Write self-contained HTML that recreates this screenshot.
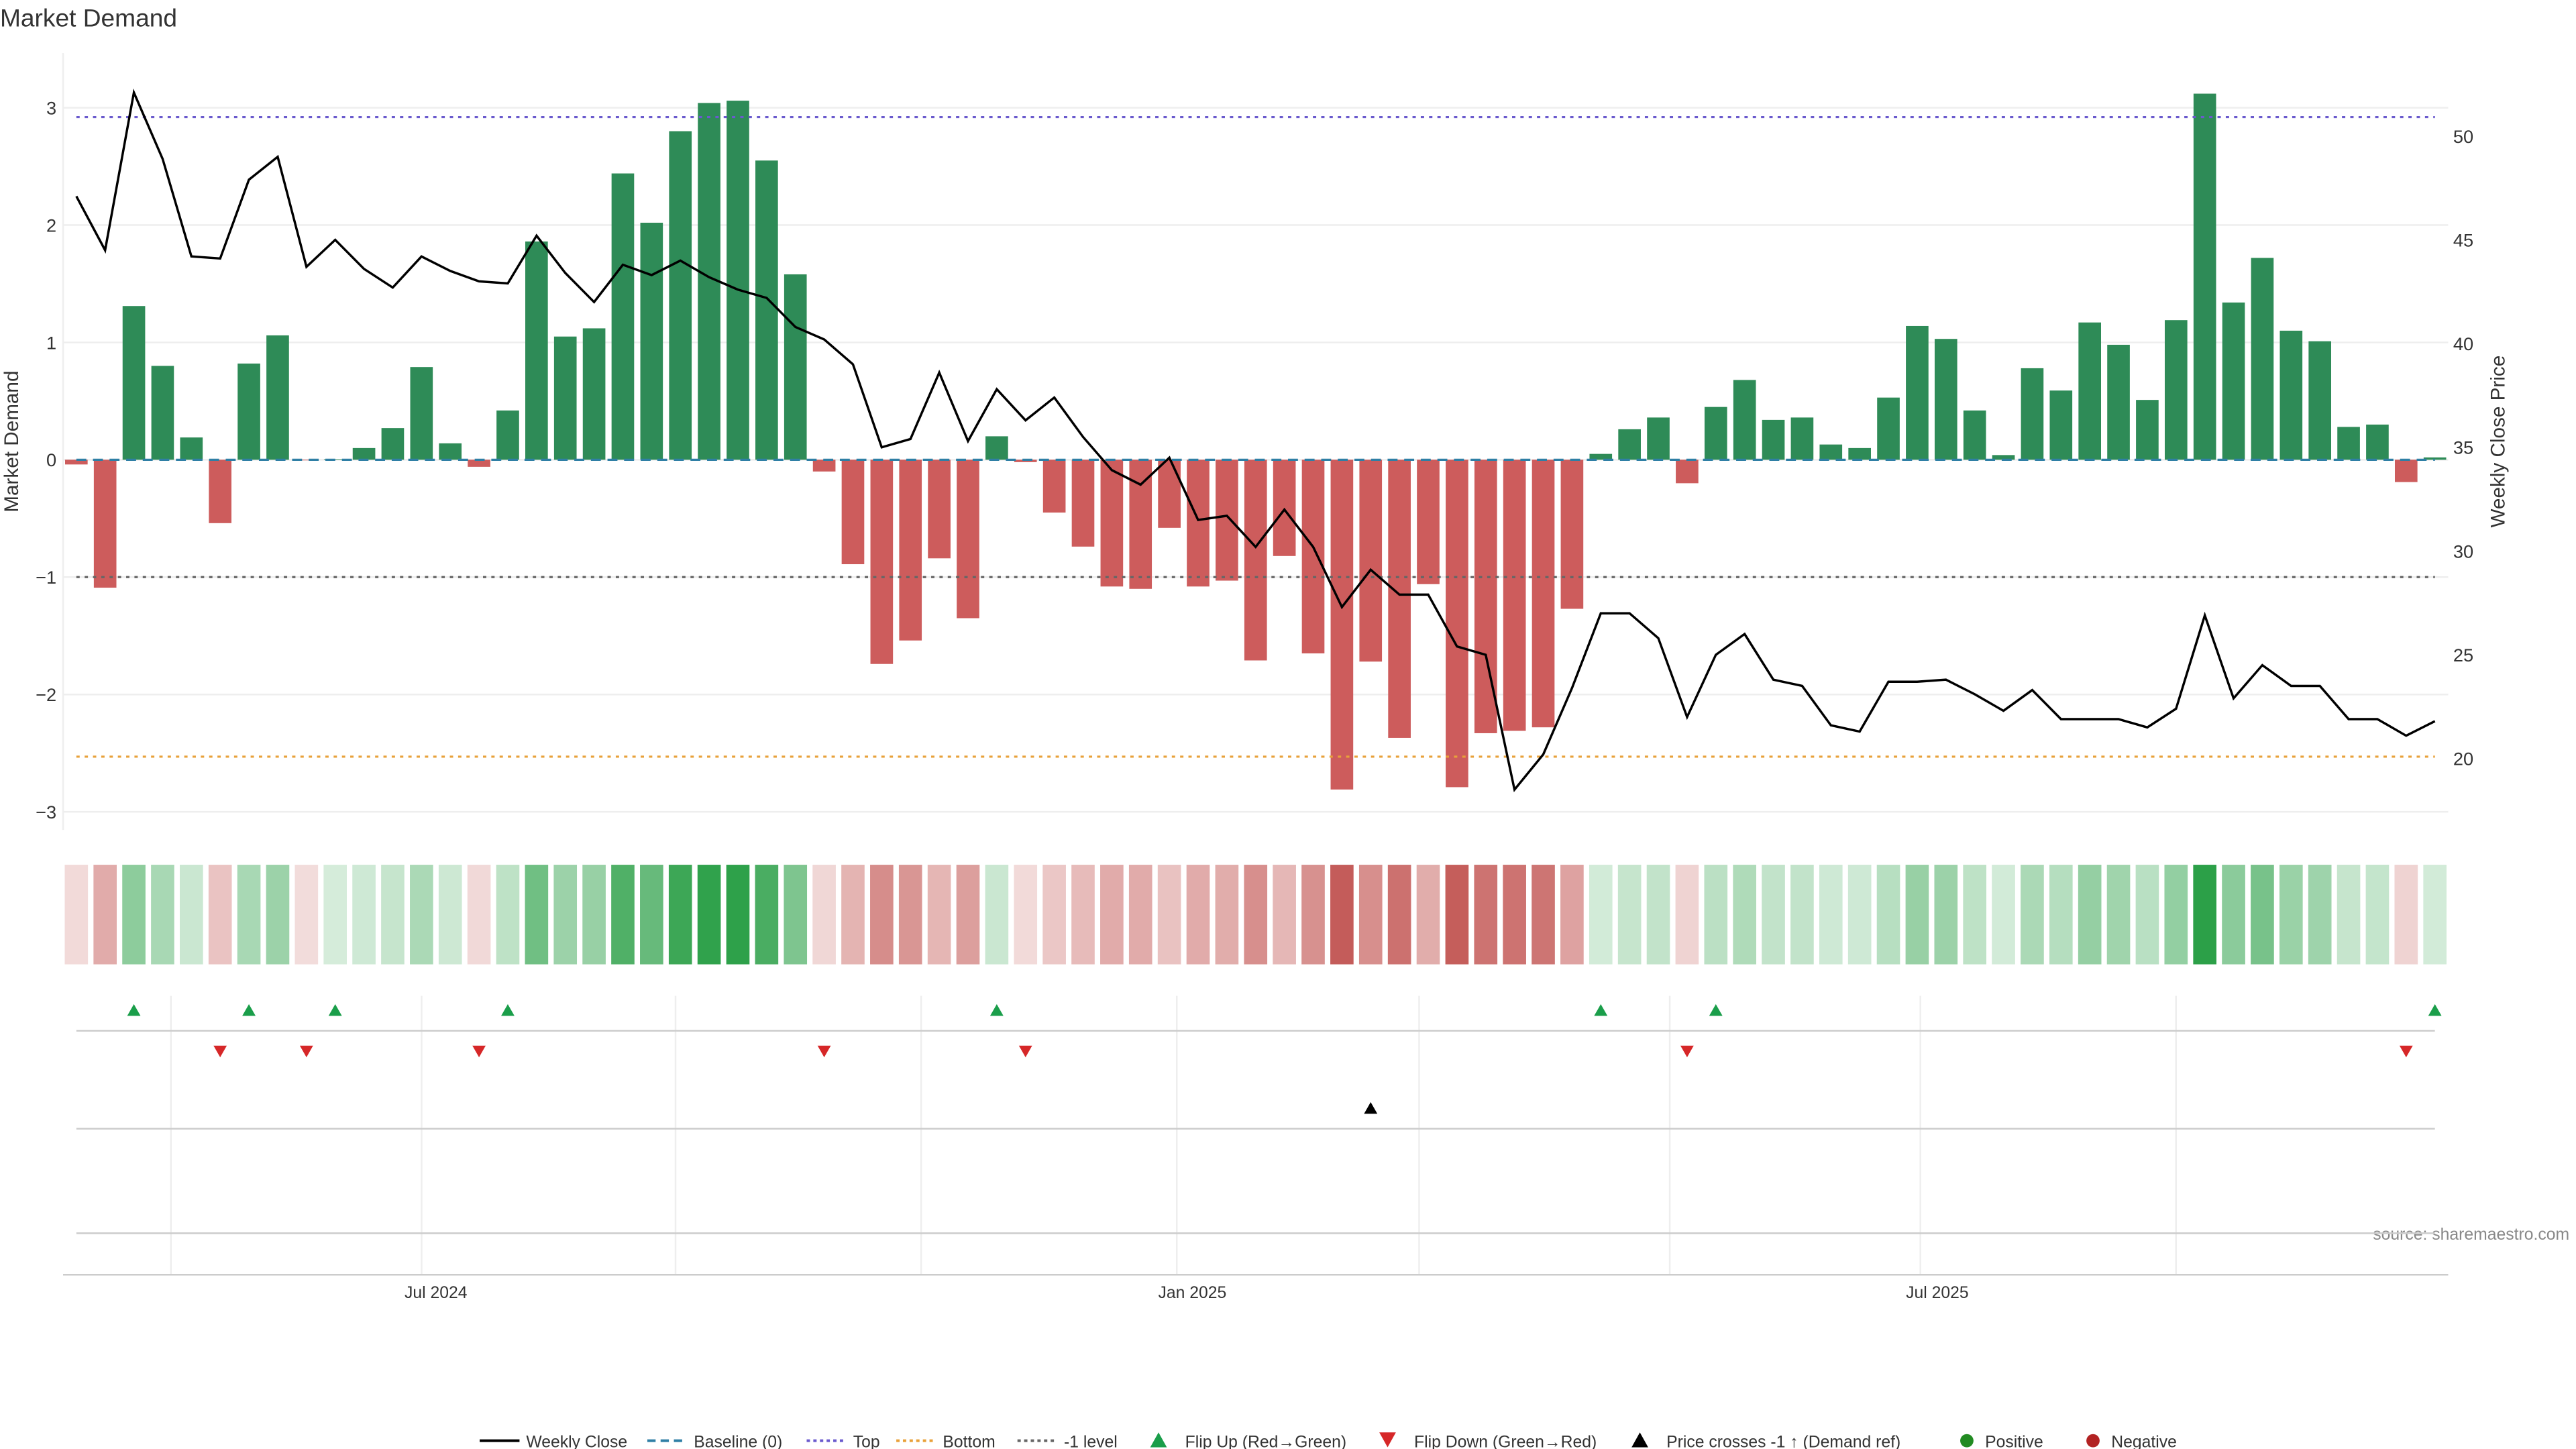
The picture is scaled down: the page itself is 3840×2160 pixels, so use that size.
<!DOCTYPE html>
<html><head><meta charset="utf-8"><style>
html,body{margin:0;padding:0;background:#fff;}
svg{display:block;font-family:"Liberation Sans","DejaVu Sans",sans-serif;}
</style></head><body>
<svg id="chart" width="3840" height="2160" viewBox="0 0 1552 873" xmlns="http://www.w3.org/2000/svg">
<text x="0" y="16" font-size="15" fill="#333">Market Demand</text>
<text transform="translate(11,266) rotate(-90)" text-anchor="middle" font-size="12" fill="#333">Market Demand</text>
<text transform="translate(1509,266) rotate(-90)" text-anchor="middle" font-size="12" fill="#333">Weekly Close Price</text>
<text x="1548" y="747" text-anchor="end" font-size="10" fill="#888">source: sharemaestro.com</text>
<g id="g"></g>
</svg>
<script>
const demand=[-0.04,-1.09,1.31,0.8,0.19,-0.54,0.82,1.06,-0.005,0.005,0.1,0.27,0.79,0.14,-0.06,0.42,1.86,1.05,1.12,2.44,2.02,2.8,3.04,3.06,2.55,1.58,-0.1,-0.89,-1.74,-1.54,-0.84,-1.35,0.2,-0.02,-0.45,-0.74,-1.08,-1.1,-0.58,-1.08,-1.03,-1.71,-0.82,-1.65,-2.81,-1.72,-2.37,-1.06,-2.79,-2.33,-2.31,-2.28,-1.27,0.05,0.26,0.36,-0.2,0.45,0.68,0.34,0.36,0.13,0.1,0.53,1.14,1.03,0.42,0.04,0.78,0.59,1.17,0.98,0.51,1.19,3.12,1.34,1.72,1.1,1.01,0.28,0.3,-0.19,0.02];
const closePrice=[47.1,44.5,52.1,48.9,44.2,44.1,47.9,49.0,43.7,45.0,43.6,42.7,44.2,43.5,43.0,42.9,45.2,43.4,42.0,43.8,43.3,44.0,43.2,42.6,42.2,40.8,40.2,39.0,35.0,35.4,38.6,35.3,37.8,36.3,37.4,35.5,33.9,33.2,34.5,31.5,31.7,30.2,32.0,30.2,27.3,29.1,27.9,27.9,25.4,25.0,18.5,20.2,23.4,27.0,27.0,25.8,22.0,25.0,26.0,23.8,23.5,21.6,21.3,23.7,23.7,23.8,23.1,22.3,23.3,21.9,21.9,21.9,21.5,22.4,26.9,22.9,24.5,23.5,23.5,21.9,21.9,21.1,21.8];
const flipUp=[2,6,9,15,32,53,57,82];
const flipDown=[5,8,14,26,33,56,81];
const priceCross=[45];
const yTicks=[3,2,1,0,-1,-2,-3];
const y2Ticks=[50,45,40,35,30,25,20];
const xTickLabels=["Jul 2024","Jan 2025","Jul 2025"];
const xTickIdx=[12.5,38.8,64.7];
const topLevel=2.92, bottomLevel=-2.53, minusLevel=-1;

const NS="http://www.w3.org/2000/svg", g=document.getElementById('g');
const X=i=>46+i*(1421/82);
const Y=v=>277-v*70.7;
const Y2=p=>269.5-(p-35)*12.5;
function el(t,a,parent){const e=document.createElementNS(NS,t);for(const k in a)e.setAttribute(k,a[k]);(parent||g).appendChild(e);return e;}

// grid & axes
yTicks.forEach(v=>{
  const l=el('line',{x1:38,x2:1475,y1:Y(v),y2:Y(v),stroke:'#eee','stroke-width':1});
  
  
  const t=el('text',{x:34,y:Y(v)+4,'text-anchor':'end','font-size':11,fill:'#333'});
  t.textContent=v<0?'\u2212'+(-v):String(v);
  
  
});
y2Ticks.forEach(p=>{
  const t=el('text',{x:1478,y:Y2(p)+4,'font-size':11,fill:'#333'});
  t.textContent=String(p);
  
  
});
el('line',{x1:38,x2:38,y1:32,y2:500,stroke:'#eee'});
[103,254,407,555,709,855,1006,1157,1311].forEach(x=>{
  el('line',{x1:x,x2:x,y1:600,y2:768,stroke:'#eee'});
});
// ref lines
function ref(v,c,d,name){const l=el('line',{x1:46,x2:1467,y1:Y(v),y2:Y(v),stroke:c,'stroke-width':1.3,'stroke-dasharray':d});
  }
// bars
demand.forEach((v,i)=>{
  const y0=Y(0),y1=Y(v);
  const r=el('rect',{x:X(i)-6.8,width:13.6,y:Math.min(y0,y1),height:Math.abs(y1-y0),fill:v>=0?'#2e8b57':'#cd5c5c'});
  
  
  const a=0.2+0.8*Math.min(1,Math.abs(v)/3.1);
  const c=el('rect',{x:X(i)-7,width:14,y:521,height:60,fill:v>=0?'#2ca048':'#c0504d','fill-opacity':a.toFixed(2)});
  
  
});
ref(0,'#2f7fa5','6,4','baseline-line');
ref(topLevel,'#6a5acd','2,3','top-line');
ref(bottomLevel,'#e8a13a','2,3','bottom-line');
ref(minusLevel,'#666','2,3','minus-one-line');
// price line
const pl=el('polyline',{points:closePrice.map((p,i)=>X(i)+','+Y2(p)).join(' '),fill:'none',stroke:'#000','stroke-width':1.4});


// event panels
el('line',{x1:46,x2:1467,y1:621,y2:621,stroke:'#ccc'});
el('line',{x1:46,x2:1467,y1:680,y2:680,stroke:'#ccc'});
el('line',{x1:46,x2:1467,y1:743,y2:743,stroke:'#ccc'});
el('line',{x1:38,x2:1475,y1:768,y2:768,stroke:'#ccc'});
flipUp.forEach(i=>{const t=el('path',{d:`M${X(i)-4},612 L${X(i)+4},612 L${X(i)},605 Z`,fill:'#1a9e4a'});
  });
flipDown.forEach(i=>{const t=el('path',{d:`M${X(i)-4},630 L${X(i)+4},630 L${X(i)},637 Z`,fill:'#d62728'});
  });
priceCross.forEach(i=>{const t=el('path',{d:`M${X(i)-4},671 L${X(i)+4},671 L${X(i)},664 Z`,fill:'#000'});
  });
xTickLabels.forEach((s,k)=>{const t=el('text',{x:X(xTickIdx[k]),y:782,'text-anchor':'middle','font-size':10,fill:'#333'});
  t.textContent=s;});
// legend
const leg=[['line','#000','','Weekly Close',289],['line','#2f7fa5','5,3','Baseline (0)',390],['line','#6a5acd','2,2','Top',486],['line','#e8a13a','2,2','Bottom',540],['line','#666','2,2','-1 level',613],
 ['up','#1a9e4a','','Flip Up (Red\u2192Green)',693],['down','#d62728','','Flip Down (Green\u2192Red)',831],['up','#000','','Price crosses -1 \u2191 (Demand ref)',983],['dot','#228b22','','Positive',1181],['dot','#b22222','','Negative',1257]];
leg.forEach(([k,c,d,lab,x])=>{
  const gg=el('g',{});
  
  
  let tx;
  if(k==='line'){el('line',{x1:x,x2:x+24,y1:868,y2:868,stroke:c,'stroke-width':1.6,'stroke-dasharray':d},gg);tx=x+28;}
  else if(k==='up'){el('path',{d:`M${x},872 L${x+10},872 L${x+5},863 Z`,fill:c},gg);tx=x+21;}
  else if(k==='down'){el('path',{d:`M${x},863 L${x+10},863 L${x+5},872 Z`,fill:c},gg);tx=x+21;}
  else {el('circle',{cx:x+4,cy:868,r:4,fill:c},gg);tx=x+15;}
  const t=el('text',{x:tx,y:872,'font-size':10,fill:'#333'},gg);t.textContent=lab;
});
</script>
</body></html>
